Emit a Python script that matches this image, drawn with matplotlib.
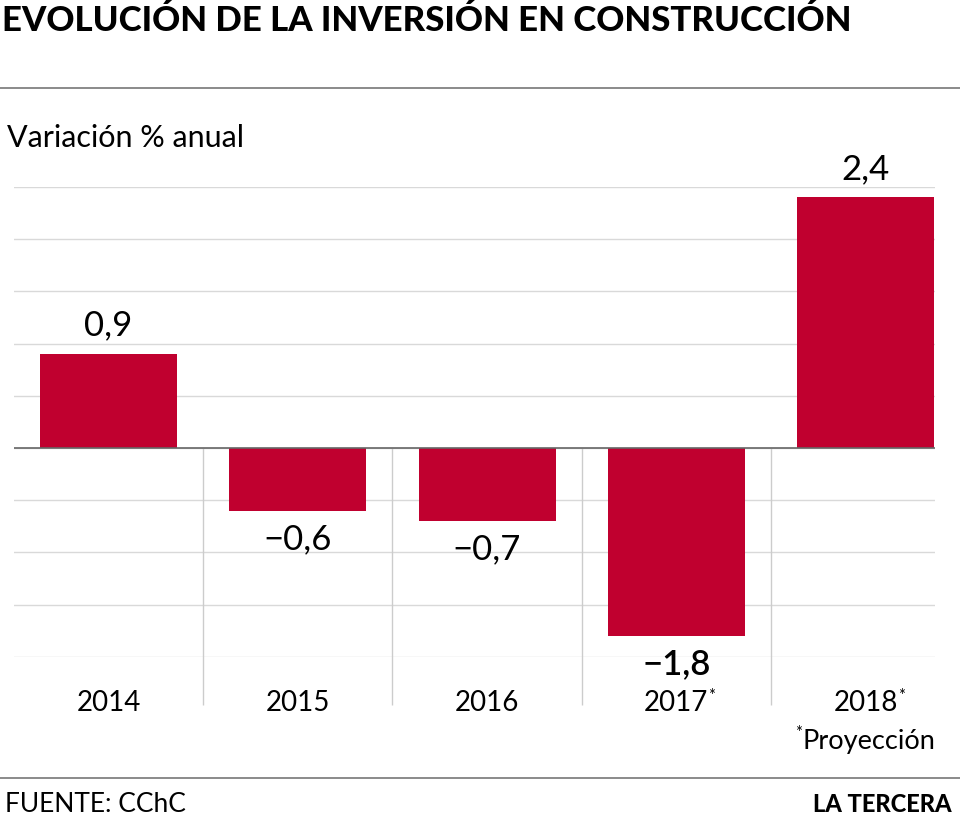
import matplotlib
matplotlib.use("Agg")
import matplotlib.pyplot as plt
import numpy as np
from matplotlib.lines import Line2D

years = ["2014", "2015", "2016", "2017", "2018"]
starred = [False, False, False, True, True]
values = [0.9, -0.6, -0.7, -1.8, 2.4]
value_labels = ["0,9", "\u22120,6", "\u22120,7", "\u22121,8", "2,4"]

plt.rcParams['font.family'] = ['Lato', 'DejaVu Sans']
RED = "#c0002f"

fig = plt.figure(figsize=(9.6, 8.16), dpi=100)
fig.patch.set_facecolor("white")
W, H = 960, 816

def fx(px):
    return px / W

def fy(py):
    return 1 - py / H

ax = fig.add_axes([fx(14), fy(656.8), fx(935 - 14), fy(187) - fy(656.8)])
ax.set_facecolor("none")
x = np.arange(len(years))
ax.set_xlim(-0.4993, 4.367)
ax.set_ylim(-2.0, 2.5)
ax.set_yticks(np.arange(-2.0, 2.51, 0.5))
ax.yaxis.grid(True, color="#d9d9d9", lw=1.0)
ax.set_axisbelow(True)
ax.tick_params(left=False, bottom=False, labelleft=False, labelbottom=False)
for s in ax.spines.values():
    s.set_visible(False)

ax.bar(x, values, width=0.724, color=RED, zorder=2)
ax.axhline(0, color="#666666", lw=1.2, zorder=3)

# separators
ax.vlines(x[:-1] + 0.5, 0, -2.46, color="#cccccc", lw=1.0, clip_on=False, zorder=1)

for xi, v, lab in zip(x, values, value_labels):
    if v >= 0:
        ax.annotate(lab, (xi, v), xytext=(0, 9), textcoords="offset points",
                    ha="center", va="bottom", fontsize=25, color="black")
    else:
        ax.annotate(lab, (xi, v), xytext=(0, -9), textcoords="offset points",
                    ha="center", va="top", fontsize=25, color="black",
                    fontweight="semibold" if v < -1.5 else "normal")

for xi, yr, st in zip(x, years, starred):
    t = ax.text(xi, -2.44, yr, ha="center", va="center", fontsize=20, color="black",
                clip_on=False)
    if st:
        ax.annotate("*", xy=(1, 1), xycoords=t, xytext=(0, 1), textcoords="offset points",
                    ha="left", va="top", fontsize=12, color="black")

# footnote
fn = fig.text(fx(935), fy(741), "Proyección", ha="right", va="center", fontsize=19.5)
fig.text(fx(802), fy(733), "*", ha="right", va="center", fontsize=12)

# title and decorations
fig.text(fx(2), fy(21), "EVOLUCIÓN DE LA INVERSIÓN EN CONSTRUCCIÓN", ha="left", va="center",
         fontsize=25, fontweight=900, color="black")
fig.add_artist(Line2D([0, 1], [fy(88), fy(88)], color="#777777", lw=1.2))
fig.text(fx(7), fy(138), "Variación % anual", ha="left", va="center", fontsize=22)
fig.add_artist(Line2D([0, 1], [fy(778), fy(778)], color="#777777", lw=1.2))
fig.text(fx(5), fy(804), "FUENTE: CChC", ha="left", va="center", fontsize=19)
fig.text(fx(952), fy(804), "LA TERCERA", ha="right", va="center", fontsize=17,
         fontweight=900)

fig.savefig("out.png", dpi=100, facecolor=fig.get_facecolor())
